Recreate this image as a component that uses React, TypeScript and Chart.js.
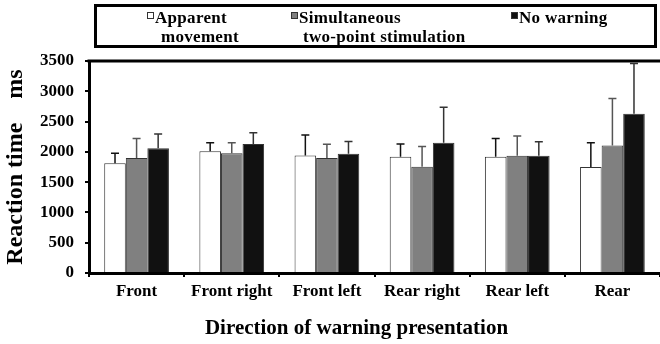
import React, { useEffect, useRef } from "react";
import { Chart, registerables } from "chart.js";

Chart.register(...registerables);

const categories = ["Front", "Front right", "Front left", "Rear right", "Rear left", "Rear"];
const seriesNames = ["Apparent movement", "Simultaneous two-point stimulation", "No warning"];
const apparentMean = [1810, 2010, 1940, 1920, 1920, 1750];
const simultaneousMean = [1900, 1975, 1900, 1755, 1935, 2105];
const noWarningMean = [2060, 2130, 1970, 2150, 1935, 2630];
const apparentSD = [165, 140, 340, 210, 300, 400];
const simultaneousSD = [320, 175, 225, 335, 325, 775];
const noWarningSD = [235, 185, 200, 585, 230, 830];
const yTicks = [0, 500, 1000, 1500, 2000, 2500, 3000, 3500];

const SERIF = "'Liberation Serif', 'Times New Roman', serif";

const errorBarPlugin = {
  id: "errorBars",
  afterDatasetsDraw(chart: any) {
    const ctx = chart.ctx;
    const yScale = chart.scales.y;
    const sds = [apparentSD, simultaneousSD, noWarningSD];
    const colors = ["#111", "#555", "#333"];
    chart.data.datasets.forEach((ds: any, di: number) => {
      const meta = chart.getDatasetMeta(di);
      meta.data.forEach((el: any, i: number) => {
        const v = ds.data[i];
        const top = yScale.getPixelForValue(v + sds[di][i]);
        ctx.save();
        ctx.strokeStyle = colors[di];
        ctx.lineWidth = 1.5;
        ctx.beginPath();
        ctx.moveTo(el.x, el.y);
        ctx.lineTo(el.x, top);
        ctx.moveTo(el.x - 4, top);
        ctx.lineTo(el.x + 4, top);
        ctx.stroke();
        ctx.restore();
      });
    });
  },
};

const framePlugin = {
  id: "frame",
  afterDraw(chart: any) {
    const ctx = chart.ctx;
    const { left, right, top } = chart.chartArea;
    ctx.save();
    ctx.strokeStyle = "#000";
    ctx.lineWidth = 3;
    ctx.beginPath();
    ctx.moveTo(left - 1.5, top);
    ctx.lineTo(right + 10, top);
    ctx.stroke();

    ctx.fillStyle = "#000";
    ctx.font = `bold 21px ${SERIF}`;
    ctx.textAlign = "center";
    ctx.textBaseline = "alphabetic";
    ctx.fillText("Direction of warning presentation", (left + right) / 2 - 18, 334);

    ctx.lineWidth = 3;
    ctx.strokeRect(95.5, 5.5, 560, 41);
    ctx.textAlign = "left";
    ctx.font = `bold 17px ${SERIF}`;
    (ctx as any).letterSpacing = "0.3px";
    const items = [
      { fill: "#ffffff", x: 147, lines: ["Apparent", "movement"], x2: 161 },
      { fill: "#808080", x: 291, lines: ["Simultaneous", "two-point stimulation"], x2: 303 },
      { fill: "#111111", x: 511, lines: ["No warning"], x2: 520 },
    ];
    items.forEach((it) => {
      ctx.fillStyle = it.fill;
      ctx.fillRect(it.x, 12, 7, 7);
      ctx.strokeStyle = "#333";
      ctx.lineWidth = 1;
      ctx.strokeRect(it.x + 0.5, 12.5, 6, 6);
      ctx.fillStyle = "#000";
      ctx.fillText(it.lines[0], it.x + 8, 23);
      if (it.lines[1]) ctx.fillText(it.lines[1], it.x2, 42);
    });
    (ctx as any).letterSpacing = "0px";
    ctx.restore();
  },
};

export default function App() {
  const ref = useRef<HTMLCanvasElement>(null);

  useEffect(() => {
    if (!ref.current) return;
    const chart = new Chart(ref.current, {
      type: "bar",
      data: {
        labels: categories,
        datasets: [
          { label: seriesNames[0], data: apparentMean, backgroundColor: "#ffffff", borderColor: "#333", borderWidth: 1 },
          { label: seriesNames[1], data: simultaneousMean, backgroundColor: "#808080", borderColor: "#333", borderWidth: 1 },
          { label: seriesNames[2], data: noWarningMean, backgroundColor: "#111111", borderColor: "#333", borderWidth: 1 },
        ],
      },
      options: {
        animation: false,
        responsive: false,
        maintainAspectRatio: false,
        devicePixelRatio: 1,
        layout: { padding: { top: 61, left: 0, right: -6, bottom: 0 } },
        datasets: { bar: { categoryPercentage: 0.68, barPercentage: 1 } },
        plugins: { legend: { display: false }, tooltip: { enabled: false }, title: { display: false } },
        scales: {
          x: {
            grid: { display: true, drawOnChartArea: false, drawTicks: true, tickLength: 4, color: "#000", lineWidth: 2, offset: true },
            border: { display: true, color: "#000", width: 3 },
            ticks: { color: "#000", font: { family: SERIF, size: 17, weight: "bold" }, padding: 4, maxRotation: 0, autoSkip: false },
            afterFit: (s: any) => { s.height = 71; },
          },
          y: {
            min: 0,
            max: 3500,
            afterBuildTicks: (s: any) => { s.ticks = yTicks.map((v) => ({ value: v })); },
            grid: { display: true, drawOnChartArea: false, drawTicks: true, tickLength: 4, color: "#000", lineWidth: 2 },
            border: { display: true, color: "#000", width: 3 },
            ticks: {
              color: "#000",
              font: { family: SERIF, size: 17, weight: "bold" },
              padding: 11,
              callback: (v: any) => String(v),
            },
            title: {
              display: true,
              text: "Reaction time    ms",
              color: "#000",
              font: { family: SERIF, size: 24, weight: "bold" },
              padding: { top: 1, bottom: 0 },
            },
            afterFit: (s: any) => { s.width = 89; },
          },
        },
      },
      plugins: [errorBarPlugin, framePlugin],
    });
    return () => chart.destroy();
  }, []);

  return (
    <div style={{ position: "absolute", left: 0, top: 0, width: 660, height: 344, overflow: "hidden", background: "#fff" }}>
      <canvas ref={ref} width={660} height={344} style={{ width: 660, height: 344, display: "block" }} />
    </div>
  );
}
